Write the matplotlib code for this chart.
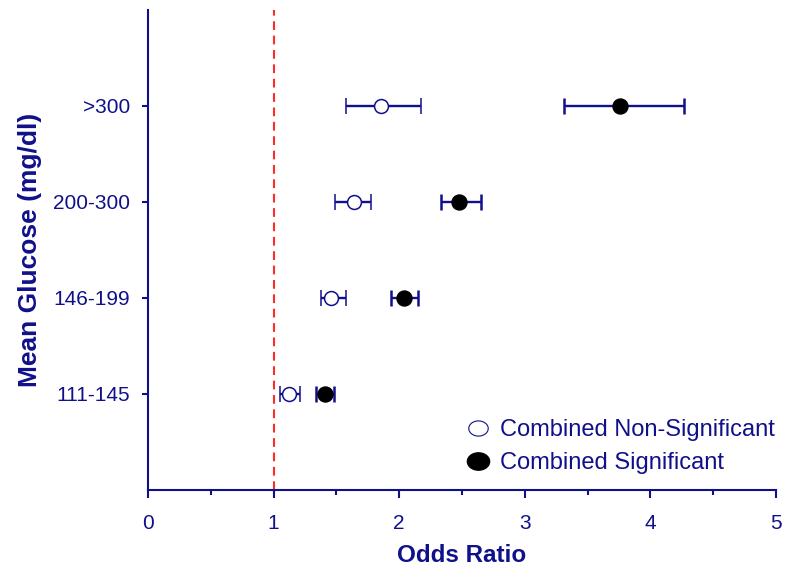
import matplotlib
matplotlib.use("Agg")
import matplotlib.pyplot as plt
from matplotlib.ticker import MultipleLocator
from matplotlib.lines import Line2D
from matplotlib.path import Path
import numpy as np

plt.rcParams['font.family'] = ['Liberation Sans', 'DejaVu Sans']

categories = ["111-145", "146-199", "200-300", ">300"]
nonsig_or = [1.125, 1.46, 1.64, 1.855]
nonsig_lo = [1.05, 1.375, 1.49, 1.58]
nonsig_hi = [1.21, 1.576, 1.775, 2.176]
sig_or = [1.41, 2.04, 2.48, 3.76]
sig_lo = [1.34, 1.935, 2.33, 3.31]
sig_hi = [1.48, 2.15, 2.65, 4.27]
legend_labels = ["Combined Non-Significant", "Combined Significant"]

navy = "#10108a"
red = "#ff2a2a"

fig = plt.figure(figsize=(7.88, 5.70), dpi=100)
ax = fig.add_axes([0.1878, 0.1404, 0.797, 0.8421])

ypos = list(range(1, len(categories) + 1))

ax.errorbar(nonsig_or, ypos,
            xerr=[[o - l for o, l in zip(nonsig_or, nonsig_lo)],
                  [h - o for o, h in zip(nonsig_or, nonsig_hi)]],
            fmt='o', mfc='white', mec=navy, ms=10, mew=1.1, ecolor=navy,
            elinewidth=1.7, capsize=6, capthick=1.8, zorder=3)
ax.errorbar(sig_or, ypos,
            xerr=[[o - l for o, l in zip(sig_or, sig_lo)],
                  [h - o for o, h in zip(sig_or, sig_hi)]],
            fmt='o', mfc='black', mec='black', ms=10.8, ecolor=navy,
            elinewidth=1.7, capsize=6, capthick=1.8, zorder=3)

ax.axvline(1, color=red, ls=(0, (4.2, 2.7)), lw=1.5, zorder=2)

ax.set_xlim(0, 5)
ax.set_ylim(0, 5)
ax.set_yticks(ypos)
ax.set_yticklabels(categories)
ax.xaxis.set_major_locator(MultipleLocator(1))
ax.xaxis.set_minor_locator(MultipleLocator(0.5))

for s in ['top', 'right']:
    ax.spines[s].set_visible(False)
for s in ['left', 'bottom']:
    ax.spines[s].set_color(navy)
    ax.spines[s].set_linewidth(1.5)

ax.tick_params(axis='x', which='major', colors=navy, labelsize=15,
               direction='out', length=5.5, width=1.5, pad=12)
ax.tick_params(axis='x', which='minor', colors=navy, direction='out',
               length=3.5, width=1.5)
ax.tick_params(axis='y', which='major', colors=navy, labelsize=15,
               direction='out', length=4.5, width=1.5, pad=8.5)

ax.set_xlabel("Odds Ratio", fontsize=17.5, fontweight='bold', color=navy, labelpad=8)
ax.set_ylabel("Mean Glucose (mg/dl)", fontsize=19, fontweight='bold', color=navy, labelpad=8)

# elliptical legend markers (wider than tall) as in the reference
t = np.linspace(0, 2 * np.pi, 60)
ell = Path(np.column_stack([np.cos(t), 0.78 * np.sin(t)]), closed=True)
h1 = Line2D([], [], marker=ell, ls='none', mfc='white', mec=navy, ms=14, mew=0.8)
h2 = Line2D([], [], marker=ell, ls='none', mfc='black', mec='black', ms=16)
leg = fig.legend([h1, h2], legend_labels,
                 loc='upper left', bbox_to_anchor=(0.5914, 0.265), frameon=False,
                 fontsize=17, handletextpad=0.43, borderpad=0, borderaxespad=0,
                 labelspacing=0.48, handlelength=1.0)
for tx in leg.get_texts():
    tx.set_color(navy)

fig.savefig("out.png", dpi=100)
